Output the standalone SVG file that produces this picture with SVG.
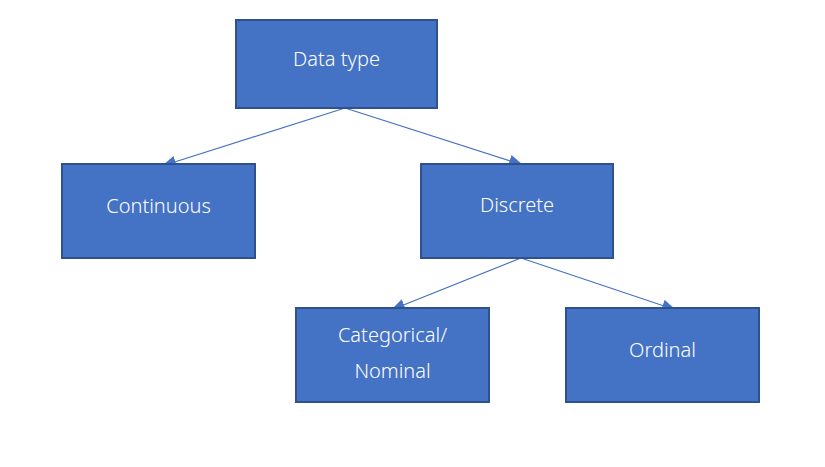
<svg xmlns="http://www.w3.org/2000/svg" width="825" height="467" viewBox="0 0 825 467">
  <style>
    .box { fill: #4472C4; stroke: #2F528F; stroke-width: 2; }
    .lbl { fill: #FFFFFF; font-family: "Noto Sans", "Open Sans", "Liberation Sans", sans-serif; font-size: 20px; font-weight: 300; text-anchor: middle; }
    .edge { stroke: #4472C4; stroke-width: 1.2; fill: none; marker-end: url(#arrow); }
  </style>
  <defs>
    <marker id="arrow" markerUnits="userSpaceOnUse" markerWidth="14" markerHeight="12" refX="14" refY="6" orient="auto">
      <path d="M0,0 L14,6 L0,12 z" fill="#4472C4"/>
    </marker>
  </defs>
  <rect width="825" height="467" fill="#FFFFFF"/>
  <g id="connectors">
    <line class="edge" x1="345" y1="108" x2="162" y2="166"/>
    <line class="edge" x1="345" y1="108" x2="523" y2="165"/>
    <line class="edge" x1="521" y1="258" x2="391" y2="310"/>
    <line class="edge" x1="521" y1="258" x2="676" y2="310"/>
  </g>
  <g id="node-datatype">
    <rect class="box" x="236" y="20" width="201" height="88"/>
    <text class="lbl" x="336.5" y="66">Data type</text>
  </g>
  <g id="node-continuous">
    <rect class="box" x="62" y="164" width="193" height="94"/>
    <text class="lbl" x="158.5" y="213">Continuous</text>
  </g>
  <g id="node-discrete">
    <rect class="box" x="421" y="164" width="192" height="94"/>
    <text class="lbl" x="517" y="212">Discrete</text>
  </g>
  <g id="node-categorical">
    <rect class="box" x="296" y="308" width="193" height="94"/>
    <text class="lbl" x="392.5" y="342">Categorical/</text>
    <text class="lbl" x="392.5" y="378">Nominal</text>
  </g>
  <g id="node-ordinal">
    <rect class="box" x="566" y="308" width="193" height="94"/>
    <text class="lbl" x="662.5" y="357">Ordinal</text>
  </g>
</svg>
